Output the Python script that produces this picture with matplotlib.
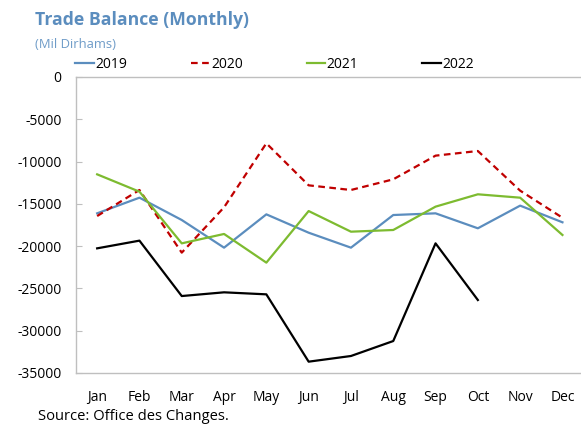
import matplotlib
matplotlib.use("Agg")
import matplotlib.pyplot as plt

months = ["Jan", "Feb", "Mar", "Apr", "May", "Jun", "Jul", "Aug", "Sep", "Oct", "Nov", "Dec"]
y2019 = [-16120, -14270, -16910, -20180, -16240, -18410, -20180, -16320, -16120, -17890, -15210, -17180]
y2020 = [-16440, -13360, -20770, -15410, -7840, -12810, -13360, -12100, -9300, -8750, -13440, -16640]
y2021 = [-11510, -13560, -19670, -18560, -21950, -15850, -18290, -18090, -15330, -13870, -14270, -18680]
y2022 = [-20260, -19350, -25900, -25460, -25700, -33660, -32990, -31220, -19670, -26370]
yticks = [0, -5000, -10000, -15000, -20000, -25000, -30000, -35000]

plt.rcParams['font.family'] = ['Open Sans', 'DejaVu Sans']

fig = plt.figure(figsize=(5.81, 4.26), dpi=100)
ax = fig.add_axes([76/581, 1-373/426, 1-76/581, (373-77)/426])

x = list(range(12))
l1, = ax.plot(x, y2019, color="#5B8DBE", lw=1.6)
l2, = ax.plot(x, y2020, color="#C00000", lw=1.6, ls=(0, (3, 2)))
l3, = ax.plot(x, y2021, color="#7DBB30", lw=1.6)
l4, = ax.plot(x[:len(y2022)], y2022, color="#000000", lw=1.6)

ax.set_xlim(-0.5, -0.5 + 505/42.3)
ax.set_ylim(-35000, 0)
ax.set_yticks(yticks)
ax.set_yticklabels([str(v) for v in yticks], fontsize=10)
ax.set_xticks(x)
ax.set_xticklabels(months, fontsize=10)
ax.tick_params(axis="x", length=0, pad=12)
ax.tick_params(axis="y", direction="in", length=4, color="#BFBFBF", pad=10.5)
for s in ["left", "top", "bottom"]:
    ax.spines[s].set_color("#BFBFBF")
    ax.spines[s].set_linewidth(1.0)
ax.spines["right"].set_visible(False)

fig.legend([l1, l2, l3, l4], ["2019", "2020", "2021", "2022"], ncol=4,
           loc="center left", bbox_to_anchor=(75/581, 1-64/426), frameon=False,
           fontsize=10, handlelength=1.35, handletextpad=0.1, columnspacing=4.6,
           borderaxespad=0, borderpad=0)

fig.text(35/581, 1-20/426, "Trade Balance (Monthly)", fontsize=12.7, fontweight="bold",
         color="#5B8DBE", va="center", ha="left")
fig.text(35/581, 1-45/426, "(Mil Dirhams)", fontsize=9.4, color="#6F9CC8",
         va="center", ha="left")
fig.text(38/581, 1-417/426, "Source: Office des Changes.", fontsize=10.6, color="#000000",
         va="center", ha="left")

fig.savefig("out.png", dpi=100)
